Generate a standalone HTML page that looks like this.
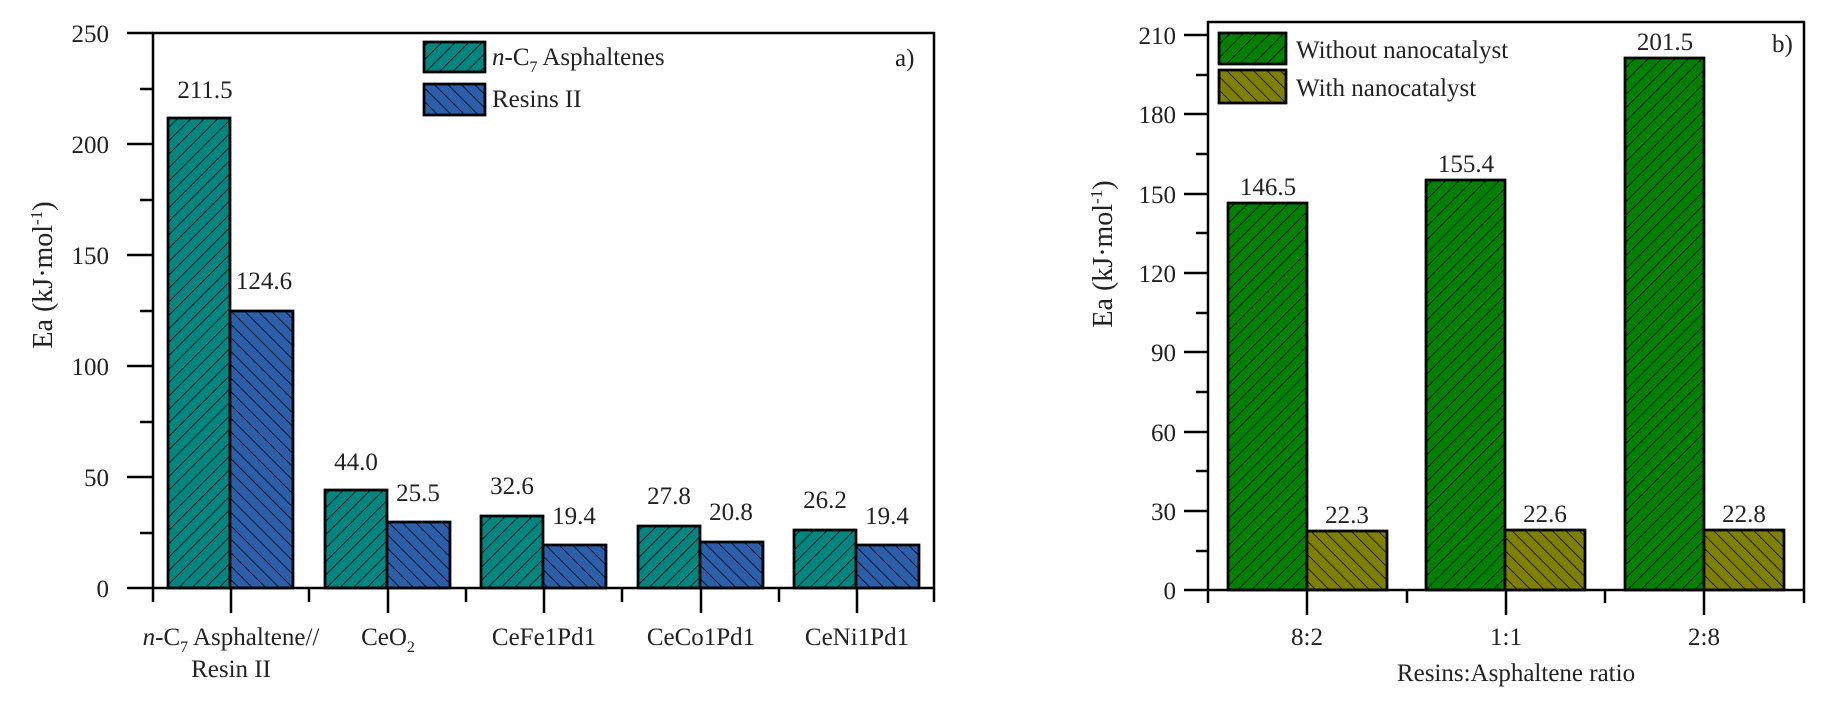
<!DOCTYPE html>
<html><head><meta charset="utf-8"><style>
html,body{margin:0;padding:0;background:#fff;}
svg{display:block;font-family:"Liberation Serif",serif;}
</style></head><body>
<svg width="1843" height="706" viewBox="0 0 1843 706" xmlns="http://www.w3.org/2000/svg">
<defs>
<pattern id="pf" patternUnits="userSpaceOnUse" width="9.5" height="9.5" patternTransform="rotate(45)"><line x1="0" y1="0" x2="0" y2="9.5" stroke="#000" stroke-width="1.5"/></pattern>
<pattern id="pb" patternUnits="userSpaceOnUse" width="9.5" height="9.5" patternTransform="rotate(-45)"><line x1="0" y1="0" x2="0" y2="9.5" stroke="#000" stroke-width="1.5"/></pattern>
</defs>
<g stroke="#000" stroke-width="2.5">
<g>
<rect x="168" y="118" width="62" height="470" fill="#008580"/><rect x="168" y="118" width="62" height="470" fill="url(#pf)"/>
<rect x="230" y="311" width="63" height="277" fill="#2c5faa"/><rect x="230" y="311" width="63" height="277" fill="url(#pb)"/>
<rect x="325" y="490" width="62" height="98" fill="#008580"/><rect x="325" y="490" width="62" height="98" fill="url(#pf)"/>
<rect x="387" y="522" width="63" height="66" fill="#2c5faa"/><rect x="387" y="522" width="63" height="66" fill="url(#pb)"/>
<rect x="481" y="516" width="62" height="72" fill="#008580"/><rect x="481" y="516" width="62" height="72" fill="url(#pf)"/>
<rect x="543" y="545" width="63" height="43" fill="#2c5faa"/><rect x="543" y="545" width="63" height="43" fill="url(#pb)"/>
<rect x="638" y="526" width="62" height="62" fill="#008580"/><rect x="638" y="526" width="62" height="62" fill="url(#pf)"/>
<rect x="700" y="542" width="63" height="46" fill="#2c5faa"/><rect x="700" y="542" width="63" height="46" fill="url(#pb)"/>
<rect x="794" y="530" width="62" height="58" fill="#008580"/><rect x="794" y="530" width="62" height="58" fill="url(#pf)"/>
<rect x="856" y="545" width="63" height="43" fill="#2c5faa"/><rect x="856" y="545" width="63" height="43" fill="url(#pb)"/>
</g>
<rect x="153" y="33" width="781" height="555" fill="none"/>
<path d="M127 33H153M127 144H153M127 255H153M127 366H153M127 477H153M127 588H153M140 89H153M140 200H153M140 311H153M140 422H153M140 533H153" />
<path d="M153 588V602M309 588V602M466 588V602M622 588V602M779 588V602M934 588V602M231 588V613M388 588V613M544 588V613M701 588V613M857 588V613"/>
<rect x="424" y="42" width="61" height="30" fill="#008580"/><rect x="424" y="42" width="61" height="30" fill="url(#pf)"/>
<rect x="424" y="84" width="61" height="31" fill="#2c5faa"/><rect x="424" y="84" width="61" height="31" fill="url(#pb)"/>
<g>
<rect x="1228" y="203" width="79" height="387" fill="#008000"/><rect x="1228" y="203" width="79" height="387" fill="url(#pf)"/>
<rect x="1307" y="531" width="80" height="59" fill="#808000"/><rect x="1307" y="531" width="80" height="59" fill="url(#pb)"/>
<rect x="1426" y="180" width="79" height="410" fill="#008000"/><rect x="1426" y="180" width="79" height="410" fill="url(#pf)"/>
<rect x="1505" y="530" width="80" height="60" fill="#808000"/><rect x="1505" y="530" width="80" height="60" fill="url(#pb)"/>
<rect x="1625" y="58" width="79" height="532" fill="#008000"/><rect x="1625" y="58" width="79" height="532" fill="url(#pf)"/>
<rect x="1704" y="530" width="80" height="60" fill="#808000"/><rect x="1704" y="530" width="80" height="60" fill="url(#pb)"/>
<rect x="1208" y="22" width="596" height="568" fill="none"/>
<path d="M1184 35H1208M1184 114H1208M1184 194H1208M1184 273H1208M1184 352H1208M1184 432H1208M1184 511H1208M1184 590H1208M1196 75H1208M1196 154H1208M1196 233H1208M1196 313H1208M1196 392H1208M1196 471H1208M1196 551H1208"/>
<path d="M1208 590V603M1407 590V603M1605 590V603M1804 590V603M1307 590V615M1506 590V615M1704 590V615"/>
<rect x="1219" y="33" width="67" height="31" fill="#008000"/><rect x="1219" y="33" width="67" height="31" fill="url(#pf)"/>
<rect x="1219" y="70" width="67" height="33" fill="#808000"/><rect x="1219" y="70" width="67" height="33" fill="url(#pb)"/>
</g>
</g>
<g font-size="25" fill="#222">
<g text-anchor="end"><text x="109" y="42">250</text><text x="109" y="153">200</text><text x="109" y="264">150</text><text x="109" y="375">100</text><text x="109" y="486">50</text><text x="109" y="597">0</text></g>
<g text-anchor="middle">
<text x="205" y="98">211.5</text><text x="264" y="289">124.6</text>
<text x="356" y="470">44.0</text><text x="418" y="501">25.5</text>
<text x="512" y="494">32.6</text><text x="574" y="524">19.4</text>
<text x="669" y="504">27.8</text><text x="731" y="520">20.8</text>
<text x="825" y="508">26.2</text><text x="887" y="524">19.4</text>
<text x="231" y="645"><tspan font-style="italic">n</tspan>-C<tspan font-size="16" dy="7">7</tspan><tspan dy="-7"> Asphaltene//</tspan></text>
<text x="231" y="677">Resin II</text>
<text x="388" y="645">CeO<tspan font-size="16" dy="7">2</tspan></text>
<text x="544" y="645">CeFe1Pd1</text><text x="701" y="645">CeCo1Pd1</text><text x="857" y="645">CeNi1Pd1</text>
</g>
<text x="492" y="65"><tspan font-style="italic">n</tspan>-C<tspan font-size="16" dy="7">7</tspan><tspan dy="-7"> Asphaltenes</tspan></text>
<text x="492" y="107">Resins II</text>
<text x="895" y="66">a)</text>
<text transform="translate(52,275) rotate(-90)" text-anchor="middle" font-size="28">Ea (kJ·mol<tspan font-size="17" dy="-10">-1</tspan><tspan dy="10">)</tspan></text>
<g text-anchor="end"><text x="1176" y="44">210</text><text x="1176" y="123">180</text><text x="1176" y="203">150</text><text x="1176" y="282">120</text><text x="1176" y="361">90</text><text x="1176" y="441">60</text><text x="1176" y="520">30</text><text x="1176" y="599">0</text></g>
<g text-anchor="middle">
<text x="1268" y="195">146.5</text><text x="1347" y="523">22.3</text>
<text x="1466" y="172">155.4</text><text x="1545" y="522">22.6</text>
<text x="1665" y="50">201.5</text><text x="1744" y="522">22.8</text>
<text x="1307" y="645">8:2</text><text x="1506" y="645">1:1</text><text x="1704" y="645">2:8</text>
<text x="1516" y="681">Resins:Asphaltene ratio</text>
</g>
<text x="1296" y="58">Without nanocatalyst</text>
<text x="1296" y="96">With nanocatalyst</text>
<text x="1772" y="52">b)</text>
<text transform="translate(1112,254) rotate(-90)" text-anchor="middle" font-size="28">Ea (kJ·mol<tspan font-size="17" dy="-10">-1</tspan><tspan dy="10">)</tspan></text>
</g>
</svg>
</body></html>
